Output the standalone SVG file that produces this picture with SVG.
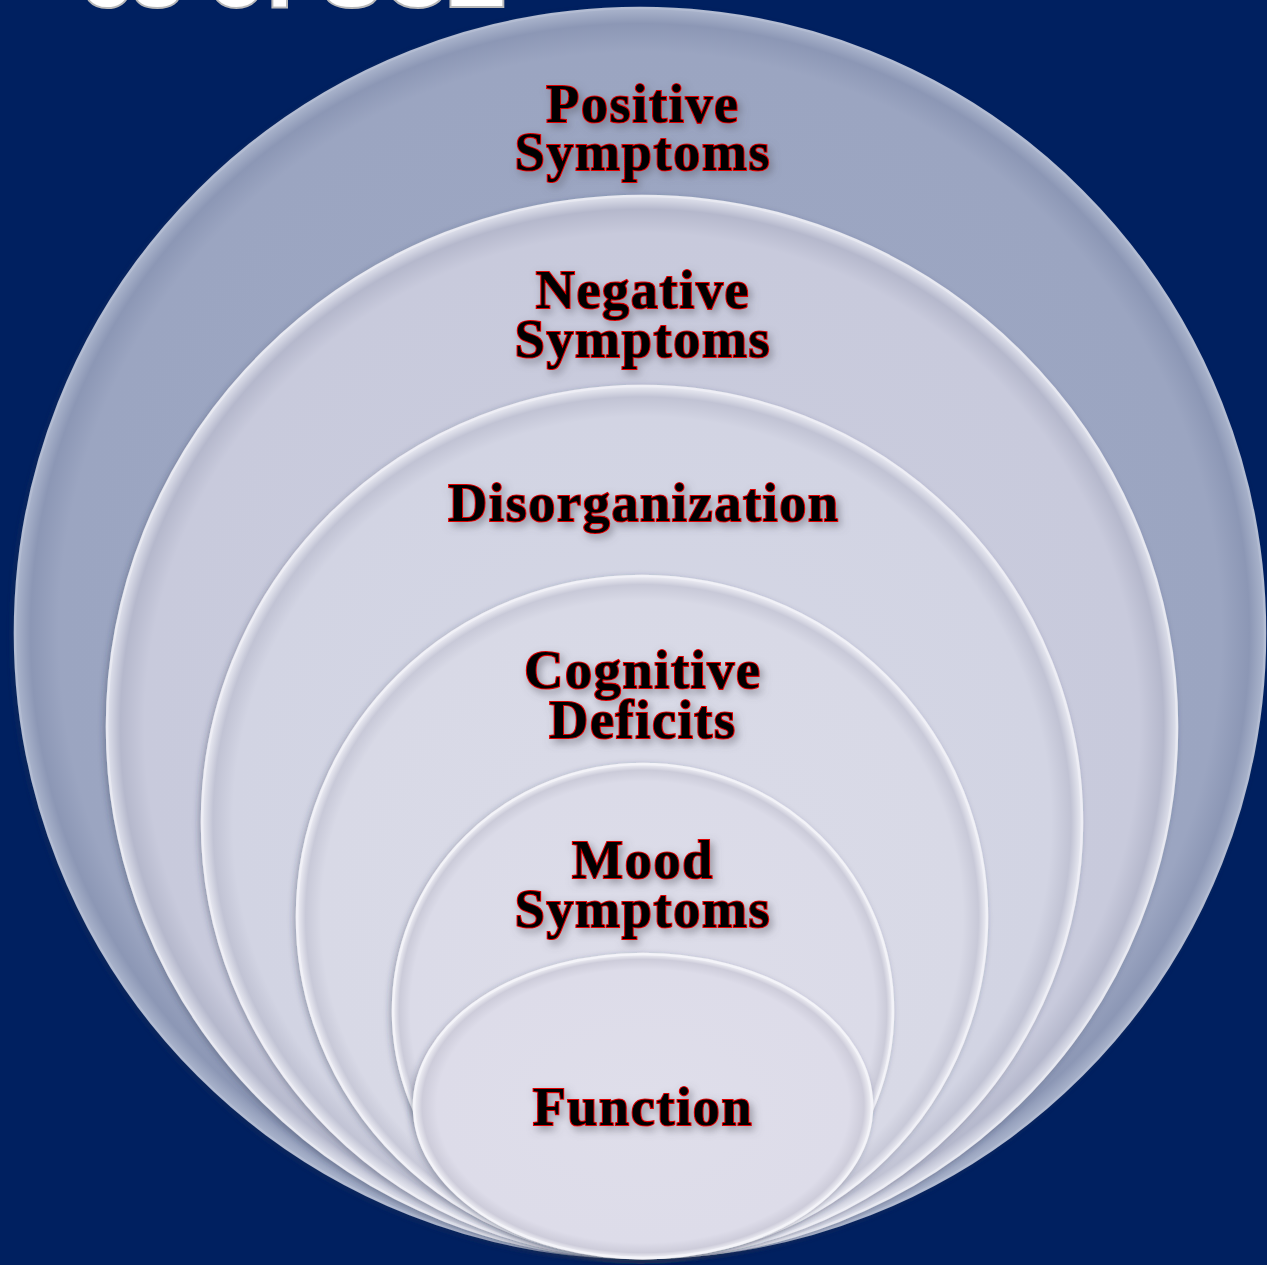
<svg xmlns="http://www.w3.org/2000/svg" width="1267" height="1265" viewBox="0 0 1267 1265">
  <defs>
    <radialGradient id="g1" cx="0.5" cy="0.5" r="0.5">
      <stop offset="0" stop-color="#9ea8c4"/>
      <stop offset="0.93" stop-color="#9ba5c1"/>
      <stop offset="0.975" stop-color="#8c97b5"/>
      <stop offset="1" stop-color="#aab4cc"/>
    </radialGradient>
    <radialGradient id="g2" cx="0.5" cy="0.5" r="0.5">
      <stop offset="0" stop-color="#cbcdde"/>
      <stop offset="0.93" stop-color="#c8cadc"/>
      <stop offset="0.975" stop-color="#b5b8cc"/>
      <stop offset="1" stop-color="#dfe1ec"/>
    </radialGradient>
    <radialGradient id="g3" cx="0.5" cy="0.5" r="0.5">
      <stop offset="0" stop-color="#d5d7e5"/>
      <stop offset="0.93" stop-color="#d2d4e3"/>
      <stop offset="0.975" stop-color="#c1c3d4"/>
      <stop offset="1" stop-color="#e9eaf2"/>
    </radialGradient>
    <radialGradient id="g4" cx="0.5" cy="0.5" r="0.5">
      <stop offset="0" stop-color="#dadbe8"/>
      <stop offset="0.93" stop-color="#d8d9e6"/>
      <stop offset="0.975" stop-color="#c8c9d8"/>
      <stop offset="1" stop-color="#eeeef5"/>
    </radialGradient>
    <radialGradient id="g5" cx="0.5" cy="0.5" r="0.5">
      <stop offset="0" stop-color="#dddde9"/>
      <stop offset="0.93" stop-color="#dbdbe8"/>
      <stop offset="0.975" stop-color="#cbcbd9"/>
      <stop offset="1" stop-color="#f0f0f6"/>
    </radialGradient>
    <radialGradient id="g6" cx="0.5" cy="0.5" r="0.5">
      <stop offset="0" stop-color="#dfdeea"/>
      <stop offset="0.9" stop-color="#dddce9"/>
      <stop offset="0.965" stop-color="#cdccda"/>
      <stop offset="1" stop-color="#f2f2f7"/>
    </radialGradient>
    <filter id="shadow" x="-10%" y="-30%" width="120%" height="160%">
      <feGaussianBlur in="SourceAlpha" stdDeviation="4"/>
      <feOffset dx="3" dy="4" result="b"/>
      <feFlood flood-color="#5a5a66" flood-opacity="0.55"/>
      <feComposite in2="b" operator="in" result="s"/>
      <feMerge><feMergeNode in="s"/><feMergeNode in="SourceGraphic"/></feMerge>
    </filter>
    <filter id="circShadow" x="-5%" y="-5%" width="110%" height="110%">
      <feGaussianBlur in="SourceAlpha" stdDeviation="3"/>
      <feOffset dx="-2" dy="2" result="b"/>
      <feFlood flood-color="#2a3350" flood-opacity="0.35"/>
      <feComposite in2="b" operator="in" result="s"/>
      <feMerge><feMergeNode in="s"/><feMergeNode in="SourceGraphic"/></feMerge>
    </filter>
  </defs>
  <style>
    .lbl { font-family: "Liberation Serif", "DejaVu Serif", serif; font-weight: bold; font-size: 54px; fill: #000000; stroke: #e00000; stroke-width: 2.2px; paint-order: stroke; text-anchor: middle; letter-spacing: 1.7px; }
    .ring { stroke-width: 2.5; }
    .title { font-family: "Liberation Sans", Arial, sans-serif; font-weight: bold; font-size: 92px; fill: #ffffff; stroke: #b8b8b8; stroke-width: 4px; paint-order: stroke; text-anchor: end; }
  </style>
  <rect x="0" y="0" width="1267" height="1265" fill="#002060"/>
  <text class="title" x="505" y="6">es of SCZ</text>

  <g id="ring1" filter="url(#circShadow)">
    <ellipse class="ring" cx="640" cy="633" rx="625" ry="625" fill="url(#g1)" stroke="#b3bcd2"/>
    <text class="lbl" filter="url(#shadow)"><tspan x="643" y="122">Positive</tspan><tspan x="643" y="170">Symptoms</tspan></text>
  </g>
  <g id="ring2" filter="url(#circShadow)">
    <ellipse class="ring" cx="642" cy="727" rx="535" ry="531" fill="url(#g2)" stroke="#e8e9f1"/>
    <text class="lbl" filter="url(#shadow)"><tspan x="643" y="308">Negative</tspan><tspan x="643" y="357">Symptoms</tspan></text>
  </g>
  <g id="ring3" filter="url(#circShadow)">
    <ellipse class="ring" cx="642" cy="822" rx="440" ry="436" fill="url(#g3)" stroke="#eeeef5"/>
    <text class="lbl" x="644" y="521" filter="url(#shadow)">Disorganization</text>
  </g>
  <g id="ring4" filter="url(#circShadow)">
    <ellipse class="ring" cx="642" cy="917" rx="345" ry="341" fill="url(#g4)" stroke="#f1f1f7"/>
    <text class="lbl" filter="url(#shadow)"><tspan x="643" y="688">Cognitive</tspan><tspan x="643" y="738">Deficits</tspan></text>
  </g>
  <g id="ring5" filter="url(#circShadow)">
    <ellipse class="ring" cx="643" cy="1011" rx="250" ry="247" fill="url(#g5)" stroke="#f3f3f8"/>
    <text class="lbl" filter="url(#shadow)"><tspan x="643" y="878">Mood</tspan><tspan x="643" y="927">Symptoms</tspan></text>
  </g>
  <g id="ring6" filter="url(#circShadow)">
    <ellipse class="ring" cx="643" cy="1106" rx="229" ry="152" fill="url(#g6)" stroke="#f4f4f9"/>
    <text class="lbl" x="643" y="1125" filter="url(#shadow)">Function</text>
  </g>
  <g id="connectors"/>
</svg>
